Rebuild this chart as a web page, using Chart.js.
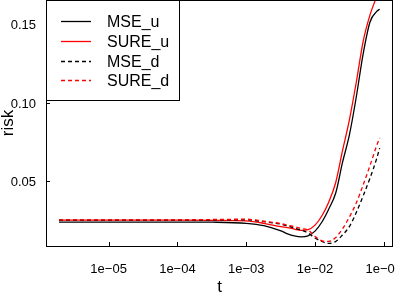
<!DOCTYPE html>
<html>
<head>
<meta charset="utf-8">
<script src="https://cdn.jsdelivr.net/npm/chart.js@4"></script>
<style>
  html, body { margin: 0; padding: 0; background: #fff; }
  canvas { display: block; }
</style>
</head>
<body>
<canvas id="chartRisk" width="395" height="293"></canvas>
<script>
// ── Data ──
const tVals = [1.9e-6, 1e-5, 1e-4, 3.2e-4, 1e-3, 1.8e-3, 3.2e-3, 4e-3, 5e-3, 6.3e-3, 7.9e-3,
               1e-2, 1.26e-2, 1.58e-2, 2e-2, 2.5e-2, 3.16e-2, 3.98e-2, 5e-2, 6.3e-2, 7.9e-2, 8.7e-2];

const mseU  = [0.0238, 0.0238, 0.0238, 0.0237, 0.0230, 0.0215, 0.0181, 0.0162, 0.0149, 0.0143, 0.0150,
               0.0180, 0.0238, 0.0320, 0.0423, 0.0615, 0.0794, 0.1036, 0.1310, 0.1515, 0.1582, 0.1596];
const sureU = [0.0250, 0.0250, 0.0250, 0.0249, 0.0245, 0.0230, 0.0208, 0.0202, 0.0193, 0.0185, 0.0189,
               0.0218, 0.0278, 0.0365, 0.0490, 0.0690, 0.0890, 0.1130, 0.1390, 0.1560, 0.1680, 0.1740];
const mseD  = [0.0250, 0.0250, 0.0250, 0.0251, 0.0252, 0.0240, 0.0224, 0.0213, 0.0200, 0.0186, 0.0168,
               0.0136, 0.0114, 0.0102, 0.0114, 0.0155, 0.0209, 0.0299, 0.0404, 0.0518, 0.0645, 0.0710];
const sureD = [0.0252, 0.0252, 0.0252, 0.0254, 0.0256, 0.0243, 0.0228, 0.0218, 0.0208, 0.0197, 0.0187,
               0.0146, 0.0118, 0.0114, 0.0139, 0.0193, 0.0270, 0.0360, 0.0474, 0.0598, 0.0728, 0.0775];

const seriesNames = ['MSE_u', 'SURE_u', 'MSE_d', 'SURE_d'];

const xTicks      = [1e-5, 1e-4, 1e-3, 1e-2, 1e-1];
const xTickLabels = ['1e\u221205', '1e\u221204', '1e\u221203', '1e\u221202', '1e\u221201'];
const yTicks      = [0.05, 0.10, 0.15];
const yTickLabels = ['0.05', '0.10', '0.15'];

const X_MIN = 1.23e-6, X_MAX = 0.136;
const Y_MIN = 0.0085,  Y_MAX = 0.1655;

const FONT = '"Liberation Sans", Arial, Helvetica, sans-serif';

const pts = arr => tVals.map((t, i) => ({ x: t, y: arr[i] }));

// ── R-style box, inward ticks, labels and legend ──
const rFrame = {
  id: 'rFrame',
  afterDraw(chart) {
    const ctx = chart.ctx;
    const a = chart.chartArea;
    const xs = chart.scales.x, ys = chart.scales.y;

    ctx.save();
    ctx.strokeStyle = '#000';
    ctx.lineWidth = 1;
    ctx.setLineDash([]);
    ctx.strokeRect(a.left + 0.5, a.top + 0.5, a.right - a.left - 1, a.bottom - a.top);

    // ticks pointing into the plot
    ctx.beginPath();
    xTicks.forEach(v => {
      const px = Math.round(xs.getPixelForValue(v)) + 0.5;
      ctx.moveTo(px, a.bottom);
      ctx.lineTo(px, a.bottom - 4);
    });
    yTicks.forEach(v => {
      const py = Math.round(ys.getPixelForValue(v)) + 0.5;
      ctx.moveTo(a.left, py);
      ctx.lineTo(a.left + 4, py);
    });
    ctx.stroke();

    ctx.fillStyle = '#000';
    ctx.font = '13px ' + FONT;
    ctx.textBaseline = 'alphabetic';
    ctx.textAlign = 'center';
    xTicks.forEach((v, i) => {
      ctx.fillText(xTickLabels[i], xs.getPixelForValue(v), 272.5);
    });
    ctx.textAlign = 'right';
    yTicks.forEach((v, i) => {
      ctx.fillText(yTickLabels[i], 36, ys.getPixelForValue(v) + 5);
    });

    // axis titles
    ctx.font = '17px ' + FONT;
    ctx.textAlign = 'center';
    ctx.fillText('t', (a.left + a.right) / 2, 292);
    ctx.save();
    ctx.translate(13, (a.top + a.bottom) / 2);
    ctx.rotate(-Math.PI / 2);
    ctx.fillText('risk', 0, 0);
    ctx.restore();

    // legend box
    ctx.fillStyle = '#fff';
    ctx.fillRect(a.left + 1, a.top + 1, 132, 99);
    ctx.strokeRect(a.left + 0.5, a.top + 0.5, 133, 100);
    ctx.font = '16px ' + FONT;
    ctx.textAlign = 'left';
    chart.data.datasets.forEach((ds, i) => {
      const ly = Math.round(21 + i * 19.8) + 0.5;
      ctx.strokeStyle = ds.borderColor;
      ctx.lineWidth = ds.borderWidth;
      ctx.setLineDash(ds.borderDash || []);
      ctx.beginPath();
      ctx.moveTo(61, ly);
      ctx.lineTo(91, ly);
      ctx.stroke();
      ctx.fillStyle = '#000';
      ctx.fillText(ds.label, 107, ly + 5.8);
    });
    ctx.restore();
  }
};

function initChart() {
  const colors = ['#000000', '#ff0000', '#000000', '#ff0000'];
  const dashes = [[], [], [4, 3], [4, 3]];
  const series = [mseU, sureU, mseD, sureD];

  new Chart(document.getElementById('chartRisk'), {
    type: 'line',
    data: {
      datasets: series.map((s, i) => ({
        label: seriesNames[i],
        data: pts(s),
        borderColor: colors[i],
        borderDash: dashes[i],
        borderWidth: 1.3,
        pointRadius: 0,
        fill: false,
        cubicInterpolationMode: 'monotone',
        order: 4 - i,
      }))
    },
    options: {
      responsive: false,
      animation: false,
      devicePixelRatio: 1,
      layout: { padding: { left: 46, right: 2, top: 0, bottom: 47 } },
      plugins: { legend: { display: false }, tooltip: { enabled: false } },
      scales: {
        x: { type: 'logarithmic', min: X_MIN, max: X_MAX, display: false },
        y: { type: 'linear', min: Y_MIN, max: Y_MAX, display: false }
      }
    },
    plugins: [rFrame]
  });
}

initChart();
</script>
</body>
</html>
